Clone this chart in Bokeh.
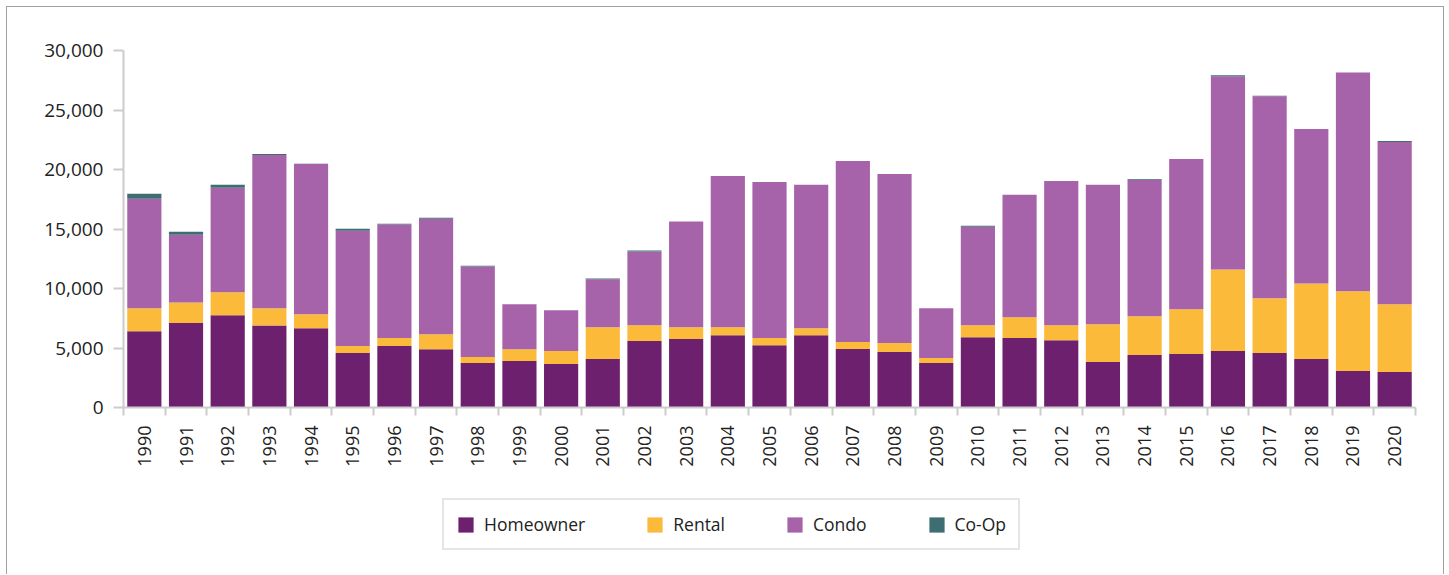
from bokeh.plotting import figure
from bokeh.layouts import column
from bokeh.models import (ColumnDataSource, Range1d, FixedTicker, NumeralTickFormatter,
                          Legend)
from bokeh.embed import file_html
from bokeh.resources import INLINE

years = ["1990", "1991", "1992", "1993", "1994", "1995", "1996", "1997", "1998", "1999",
         "2000", "2001", "2002", "2003", "2004", "2005", "2006", "2007", "2008", "2009",
         "2010", "2011", "2012", "2013", "2014", "2015", "2016", "2017", "2018", "2019", "2020"]
homeowner = [6400, 7100, 7750, 6900, 6650, 4580, 5160, 4900, 3740, 3900,
             3650, 4070, 5580, 5750, 6080, 5240, 6080, 4910, 4660, 3740,
             5910, 5830, 5660, 3820, 4410, 4490, 4740, 4580, 4070, 3070, 2990]
rental = [1940, 1730, 1930, 1440, 1180, 580, 670, 1260, 500, 1000,
          1090, 2680, 1340, 1000, 670, 590, 590, 590, 750, 420,
          1000, 1760, 1250, 3180, 3260, 3770, 6860, 4600, 6360, 6690, 5690]
condo = [9200, 5690, 8780, 12880, 12640, 9700, 9540, 9700, 7610, 3770,
         3430, 4020, 6190, 8870, 12710, 13130, 12040, 15220, 14220, 4180,
         8280, 10290, 12130, 11710, 11460, 12630, 16230, 16980, 12970, 18400, 13640]
coop = [420, 250, 250, 80, 10, 170, 80, 80, 60, 0,
        0, 80, 80, 20, 0, 0, 0, 0, 0, 0,
        80, 0, 0, 0, 80, 0, 80, 40, 0, 0, 80]

series = ["homeowner", "rental", "condo", "coop"]
labels = ["Homeowner", "Rental", "Condo", "Co-Op"]
colors = ["#6d206d", "#fcba3a", "#a663a9", "#3e6e71"]

n = len(years)
xpos = [i + 0.5 for i in range(n)]
source = ColumnDataSource(dict(x=xpos, homeowner=homeowner, rental=rental,
                               condo=condo, coop=coop))

FONT = "Open Sans"
TXT = "#222222"
GREY = "#cccccc"
BORDER = "1px solid #a0a0a0"

# ---- main chart ----
p = figure(width=1438, height=462, output_backend="svg", toolbar_location=None,
           x_range=Range1d(0, n), y_range=Range1d(0, 30000),
           min_border_left=116, min_border_right=30, min_border_top=43,
           min_border_bottom=60,
           styles={"border-top": BORDER, "border-left": BORDER, "border-right": BORDER})
p.outline_line_color = None
p.xgrid.visible = False
p.ygrid.visible = False

renderers = p.vbar_stack(series, x="x", width=0.82, source=source, color=colors,
                         line_color=None)

xa = p.xaxis[0]
xa.ticker = FixedTicker(ticks=xpos, minor_ticks=list(range(n + 1)))
xa.major_label_overrides = {x: y for x, y in zip(xpos, years)}
xa.major_label_orientation = 3.14159265 / 2
xa.major_tick_out = 0
xa.major_tick_in = 0
xa.minor_tick_out = 8
xa.minor_tick_in = 0
xa.minor_tick_line_color = GREY
xa.minor_tick_line_width = 2
xa.axis_line_color = GREY
xa.axis_line_width = 2
xa.major_label_standoff = 10
xa.major_label_text_font = FONT
xa.major_label_text_font_size = "18px"
xa.major_label_text_color = TXT

ya = p.yaxis[0]
ya.ticker = FixedTicker(ticks=[0, 5000, 10000, 15000, 20000, 25000, 30000])
ya.formatter = NumeralTickFormatter(format="0,0")
ya.major_tick_out = 10
ya.major_tick_in = 0
ya.minor_tick_out = 0
ya.minor_tick_in = 0
ya.major_tick_line_color = GREY
ya.major_tick_line_width = 2
ya.axis_line_color = GREY
ya.axis_line_width = 2
ya.major_label_standoff = 10
ya.major_label_text_font = FONT
ya.major_label_text_font_size = "19px"
ya.major_label_text_color = TXT

# ---- legend strip (same series colours; zero-height proxy bars) ----
lg = figure(width=1438, height=106, output_backend="svg", toolbar_location=None,
            x_range=Range1d(0, 1), y_range=Range1d(0, 1),
            x_axis_type=None, y_axis_type=None, min_border=0,
            min_border_left=0, min_border_right=0, min_border_top=0, min_border_bottom=0,
            styles={"border-left": BORDER, "border-right": BORDER})
lg.outline_line_color = None
lg.xgrid.visible = False
lg.ygrid.visible = False
proxy = []
for c in colors:
    proxy.append(lg.vbar(x=[0], top=[0], width=0.8, fill_color=c, line_color=None))

legend = Legend(items=[(lab, [r]) for lab, r in zip(labels, proxy)],
                orientation="horizontal", location=(319, 24), margin=0,
                padding=12, spacing=60, label_standoff=9,
                glyph_width=19, glyph_height=19, label_height=20,
                label_text_font=FONT, label_text_font_size="17.5px",
                label_text_color=TXT,
                border_line_color=GREY, border_line_width=2,
                background_fill_color="white", background_fill_alpha=1)
lg.add_layout(legend, "center")

layout = column(p, lg, spacing=0,
                styles={"margin-left": "6px", "margin-top": "6px"})

open("out.html", "w").write(file_html(layout, INLINE))
